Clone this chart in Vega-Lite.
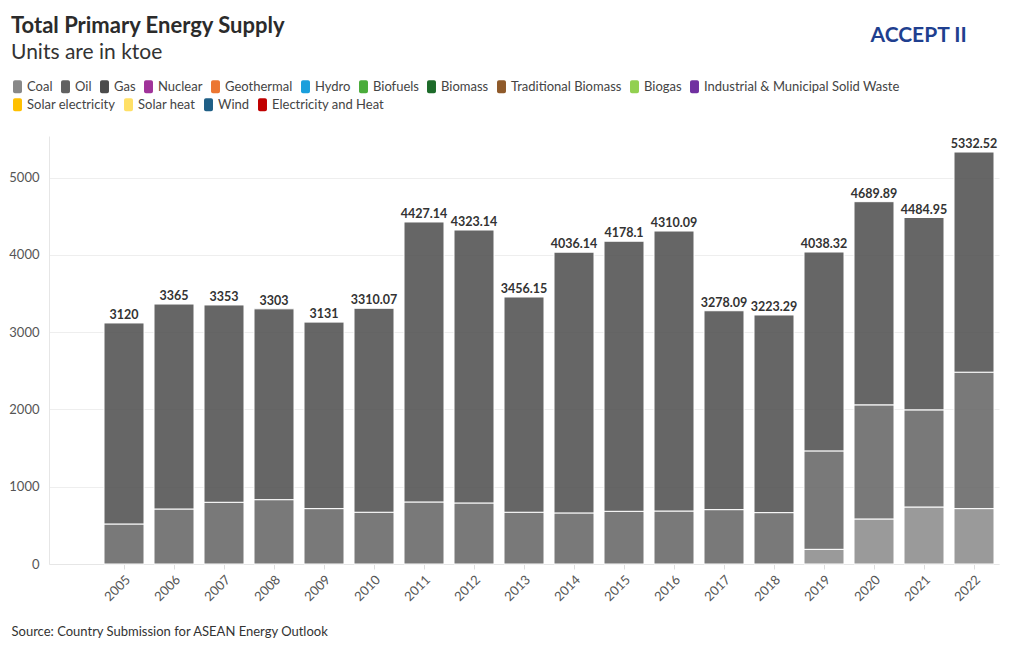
{
  "$schema": "https://vega.github.io/schema/vega-lite/v6.json",
  "width": 950,
  "height": 428,
  "autosize": {"type": "none"},
  "padding": {"left": 49, "top": 136, "right": 21, "bottom": 86},
  "background": "white",
  "title": {
    "text": "Total Primary Energy Supply",
    "subtitle": "Units are in ktoe",
    "anchor": "start",
    "frame": "group",
    "dx": -38,
    "offset": -40,
    "font": "Lato",
    "fontSize": 22,
    "fontWeight": "bold",
    "color": "#2b2b2b",
    "subtitleFont": "Lato",
    "subtitleFontSize": 21,
    "subtitleColor": "#333333",
    "subtitlePadding": 4
  },
  "data": {
    "values": [
      {"year": "2005", "source": "Oil", "value": 518},
      {"year": "2005", "source": "Gas", "value": 2602},
      {"year": "2006", "source": "Oil", "value": 712},
      {"year": "2006", "source": "Gas", "value": 2653},
      {"year": "2007", "source": "Oil", "value": 799},
      {"year": "2007", "source": "Gas", "value": 2554},
      {"year": "2008", "source": "Oil", "value": 833},
      {"year": "2008", "source": "Gas", "value": 2470},
      {"year": "2009", "source": "Oil", "value": 717},
      {"year": "2009", "source": "Gas", "value": 2414},
      {"year": "2010", "source": "Oil", "value": 670},
      {"year": "2010", "source": "Gas", "value": 2640.07},
      {"year": "2011", "source": "Oil", "value": 803},
      {"year": "2011", "source": "Gas", "value": 3624.14},
      {"year": "2012", "source": "Oil", "value": 790},
      {"year": "2012", "source": "Gas", "value": 3533.14},
      {"year": "2013", "source": "Oil", "value": 670},
      {"year": "2013", "source": "Gas", "value": 2786.15},
      {"year": "2014", "source": "Oil", "value": 661},
      {"year": "2014", "source": "Gas", "value": 3375.14},
      {"year": "2015", "source": "Oil", "value": 682},
      {"year": "2015", "source": "Gas", "value": 3496.1},
      {"year": "2016", "source": "Oil", "value": 686},
      {"year": "2016", "source": "Gas", "value": 3624.09},
      {"year": "2017", "source": "Oil", "value": 704},
      {"year": "2017", "source": "Gas", "value": 2574.09},
      {"year": "2018", "source": "Oil", "value": 665},
      {"year": "2018", "source": "Gas", "value": 2558.29},
      {"year": "2019", "source": "Coal", "value": 190},
      {"year": "2019", "source": "Oil", "value": 1274},
      {"year": "2019", "source": "Gas", "value": 2574.32},
      {"year": "2020", "source": "Coal", "value": 583},
      {"year": "2020", "source": "Oil", "value": 1477},
      {"year": "2020", "source": "Gas", "value": 2629.89},
      {"year": "2021", "source": "Coal", "value": 738},
      {"year": "2021", "source": "Oil", "value": 1257},
      {"year": "2021", "source": "Gas", "value": 2489.95},
      {"year": "2022", "source": "Coal", "value": 717},
      {"year": "2022", "source": "Oil", "value": 1766},
      {"year": "2022", "source": "Gas", "value": 2849.52}
    ]
  },
  "transform": [
    {"calculate": "indexof(['Coal','Oil','Gas'], datum.source)", "as": "stackOrder"}
  ],
  "encoding": {
    "x": {
      "field": "year",
      "type": "ordinal",
      "scale": {"paddingInner": 0.2, "paddingOuter": 0.6, "align": 0.9167},
      "axis": {
        "title": "Source: Country Submission for ASEAN Energy Outlook",
        "titleAnchor": "start",
        "titleAlign": "left",
        "titleX": -38,
        "titleY": 67,
        "titleBaseline": "middle",
        "titleFont": "Lato",
        "titleFontSize": 13,
        "titleFontWeight": "normal",
        "titleColor": "#333333",
        "labelAngle": -45,
        "labelFont": "Lato",
        "labelFontSize": 13,
        "labelColor": "#555555",
        "labelPadding": 4,
        "ticks": true,
        "tickColor": "#dddddd",
        "tickSize": 5,
        "domain": true,
        "domainColor": "#e6e6e6",
        "grid": false
      }
    }
  },
  "layer": [
    {
      "mark": {"type": "bar", "fillOpacity": 0.85, "stroke": "white", "strokeWidth": 1},
      "encoding": {
        "y": {
          "field": "value",
          "type": "quantitative",
          "stack": "zero",
          "scale": {"domain": [0, 5540], "nice": false},
          "axis": {
            "values": [0, 1000, 2000, 3000, 4000, 5000],
            "format": "d",
            "title": "ACCEPT II",
            "titleAngle": 0,
            "titleX": 821,
            "titleY": -101,
            "titleAlign": "left",
            "titleBaseline": "middle",
            "titleFont": "Lato",
            "titleFontSize": 21,
            "titleFontWeight": "bold",
            "titleColor": "#1f3f8f",
            "labelFont": "Lato",
            "labelFontSize": 13,
            "labelColor": "#555555",
            "labelPadding": 10,
            "ticks": false,
            "domain": true,
            "domainColor": "#e6e6e6",
            "gridColor": "#eeeeee"
          }
        },
        "color": {
          "field": "source",
          "type": "nominal",
          "scale": {
            "domain": ["Coal", "Oil", "Gas", "Nuclear", "Geothermal", "Hydro", "Biofuels", "Biomass", "Traditional Biomass", "Biogas", "Industrial & Municipal Solid Waste"],
            "range": ["#888888", "#616161", "#4b4b4b", "#a0339a", "#ec7632", "#1a9fdc", "#4aac3a", "#1d6b2a", "#8f5a2a", "#92d050", "#7030a0"]
          },
          "legend": {
            "orient": "none",
            "legendX": -38,
            "legendY": -56,
            "direction": "horizontal",
            "title": null,
            "symbolType": "M-0.39,-1 H0.39 A0.3,0.3 0 0 1 0.69,-0.7 V0.7 A0.3,0.3 0 0 1 0.39,1 H-0.39 A0.3,0.3 0 0 1 -0.69,0.7 V-0.7 A0.3,0.3 0 0 1 -0.39,-1 Z",
            "symbolSize": 169,
            "symbolOpacity": 1,
            "symbolStrokeWidth": 0,
            "labelFont": "Lato",
            "labelFontSize": 13,
            "labelLimit": 400,
            "labelColor": "#444444",
            "labelOffset": 3,
            "columnPadding": 6
          }
        },
        "order": {"field": "stackOrder", "type": "quantitative"}
      }
    },
    {
      "mark": {"type": "bar", "opacity": 0},
      "encoding": {
        "y": {"field": "value", "type": "quantitative", "stack": "zero"},
        "color": {
          "field": "source",
          "type": "nominal",
          "scale": {
            "domain": ["Solar electricity", "Solar heat", "Wind", "Electricity and Heat"],
            "range": ["#ffc000", "#ffe066", "#1f5f86", "#c00000"]
          },
          "legend": {
            "orient": "none",
            "legendX": -38,
            "legendY": -38,
            "direction": "horizontal",
            "title": null,
            "symbolType": "M-0.39,-1 H0.39 A0.3,0.3 0 0 1 0.69,-0.7 V0.7 A0.3,0.3 0 0 1 0.39,1 H-0.39 A0.3,0.3 0 0 1 -0.69,0.7 V-0.7 A0.3,0.3 0 0 1 -0.39,-1 Z",
            "symbolSize": 169,
            "symbolOpacity": 1,
            "symbolStrokeWidth": 0,
            "labelFont": "Lato",
            "labelFontSize": 13,
            "labelLimit": 400,
            "labelColor": "#444444",
            "labelOffset": 3,
            "columnPadding": 6
          }
        }
      }
    },
    {
      "mark": {"type": "text", "dy": -8, "font": "Lato", "fontSize": 12.5, "fontWeight": "bold", "color": "#333333"},
      "encoding": {
        "y": {"aggregate": "sum", "field": "value", "type": "quantitative"},
        "text": {"aggregate": "sum", "field": "value", "type": "quantitative", "format": ".2~f"}
      }
    }
  ],
  "resolve": {"scale": {"color": "independent"}, "legend": {"color": "independent"}},
  "config": {
    "view": {"stroke": null}
  }
}
